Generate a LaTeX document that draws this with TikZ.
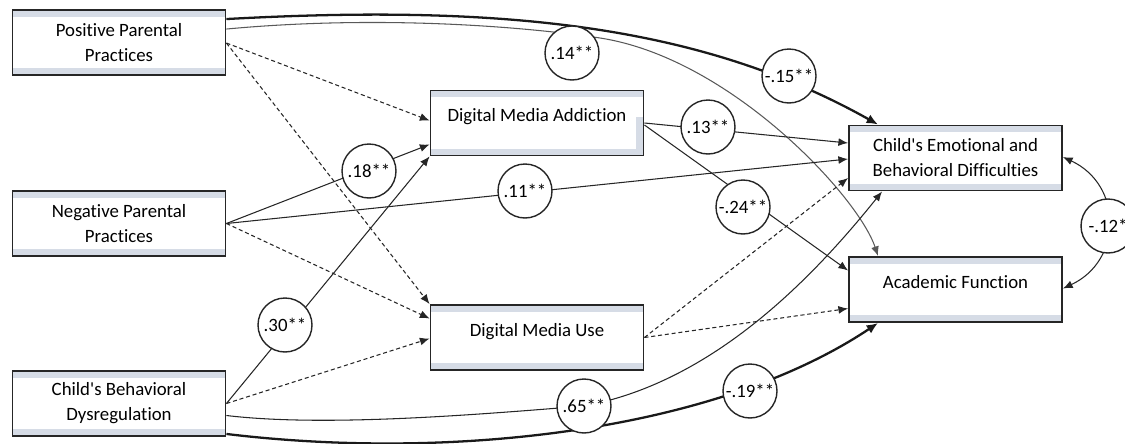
\documentclass[tikz,border=0pt]{standalone}
\usepackage{fontspec}
\setmainfont{Carlito}[Ligatures=CommonOff]
\usetikzlibrary{arrows.meta, calc}

\definecolor{bandgray}{RGB}{214,220,230}

% light bands at top and bottom of each variable box
\newcommand{\bandfill}{%
    \fill[bandgray] (path picture bounding box.north west) rectangle ([yshift=-3.8pt]path picture bounding box.north east);
    \fill[bandgray] ([yshift=3.8pt]path picture bounding box.south west) rectangle (path picture bounding box.south east);
}
\newcommand{\sidefill}{%
    \fill[bandgray] ([xshift=-4pt]path picture bounding box.south east) rectangle ([yshift=22pt]path picture bounding box.south east);
}

\begin{document}
\begin{tikzpicture}[
    x=0.02cm, y=-0.02cm,
    % Variable box style
    varbox/.style={
        rectangle,
        draw=black!85,
        line width=1.1pt,
        fill=white,
        minimum width=4.26cm,
        minimum height=1.3cm,
        inner sep=0pt,
        align=center,
        font=\fontsize{10.7}{14.2}\selectfont,
        path picture={\bandfill}
    },
    onerow/.style={
        text depth=9pt
    },
    % Coefficient circle style
    coef/.style={
        circle,
        draw=black!85,
        line width=0.8pt,
        fill=white,
        minimum size=1.08cm,
        inner sep=0pt,
        font=\fontsize{10.7}{12}\selectfont
    },
    effect/.style={
        -{Latex[length=5.5pt,width=4.5pt]},
        line width=0.6pt,
        black!85
    },
    strong/.style={
        -{Latex[length=6.5pt,width=5.5pt]},
        line width=1.3pt,
        black!90
    },
    weak/.style={
        effect,
        dash pattern=on 2.3pt off 1.6pt
    }
]
\useasboundingbox (0,0) rectangle (1125,443);

% === Predictors (left) ===
\node[varbox] (ppp) at (119,42.5) {Positive Parental\\Practices};
\node[varbox] (npp) at (119,223.5) {Negative Parental\\Practices};
\node[varbox] (cbd) at (119,403.5) {Child\textquotesingle s Behavioral\\Dysregulation};

% === Mediators (middle) ===
\node[varbox, onerow, path picture={\bandfill\sidefill}] (dma) at (537,123) {Digital Media Addiction};
\node[varbox, onerow] (dmu) at (537,337.5) {Digital Media Use};

% === Outcomes (right) ===
\node[varbox] (cebd) at (955.5,158) {Child\textquotesingle s Emotional and\\Behavioral Difficulties};
\node[varbox, onerow] (af) at (955.5,289.5) {Academic Function};

% === Paths from positive parenting ===
\draw[strong] ($(ppp.north east)+(0,10)$) .. controls +(274,-15) and +(-178,-100) .. ($(cebd.north west)+(30,0)$);
\draw[effect, black!65] ($(ppp.north east)+(0,20)$) .. controls +(150,-14) and +(-80,-12) .. (600,38)
    .. controls +(130,20) and +(-20,-60) .. ($(af.north west)+(30,0)$);
\draw[weak] ($(ppp.north east)+(0,34)$) -- ($(dma.north west)+(0,31)$);
\draw[weak] ($(ppp.north east)+(0,34)$) -- (dmu.north west);

% === Paths from negative parenting ===
\draw[effect] (npp.east) -- ($(dma.south west)+(0,-12)$);
\draw[effect] (npp.east) -- ($(cebd.west)+(0,1)$);
\draw[weak] (npp.east) -- ($(dmu.west)+(0,-19)$);

% === Paths from dysregulation ===
\draw[effect] (cbd.east) -- (dma.south west);
\draw[weak] (cbd.east) -- ($(dmu.west)+(0,1)$);
\draw[effect] ($(cbd.east)+(0,12)$) .. controls +(100,12) and +(-100,8) .. (584,406)
    .. controls +(120,-22) and +(-80,100) .. ($(cebd.south west)+(34,0)$);
\draw[strong] ($(cbd.south east)+(0,-3)$) .. controls +(224,27) and +(-163,109) .. ($(af.south west)+(30,0)$);

% === Paths from mediators ===
\draw[effect] (dma.east) -- ($(cebd.west)+(0,-15)$);
\draw[effect] ($(dma.east)+(0,2)$) -- ($(af.west)+(0,-19)$);
\draw[weak] (dmu.east) -- ($(cebd.west)+(0,20)$);
\draw[weak] (dmu.east) -- ($(af.west)+(0,19)$);

% === Residual covariance ===
\draw[{Latex[length=5.5pt,width=4.5pt]}-{Latex[length=5.5pt,width=4.5pt]}, line width=0.6pt, black!85]
    ($(cebd.east)+(0,-1)$) .. controls +(60,28) and +(60,-28) .. ($(af.east)+(0,-1)$);

% === Coefficients ===
\node[coef] (c14) at (572,53) {.14**};
\node[coef] (c15) at (789,76) {-.15**};
\node[coef] (c13) at (708,127) {.13**};
\node[coef] (c24) at (743,207) {-.24**};
\node[coef] (c18) at (369,171) {.18**};
\node[coef] (c11) at (525,191) {.11**};
\node[coef] (c30) at (285,325) {.30**};
\node[coef] (c65) at (584,406) {.65**};
\node[coef] (c19) at (750,391) {-.19**};
\node[coef] (c12) at (1108,226) {-.12*};

\end{tikzpicture}
\end{document}
